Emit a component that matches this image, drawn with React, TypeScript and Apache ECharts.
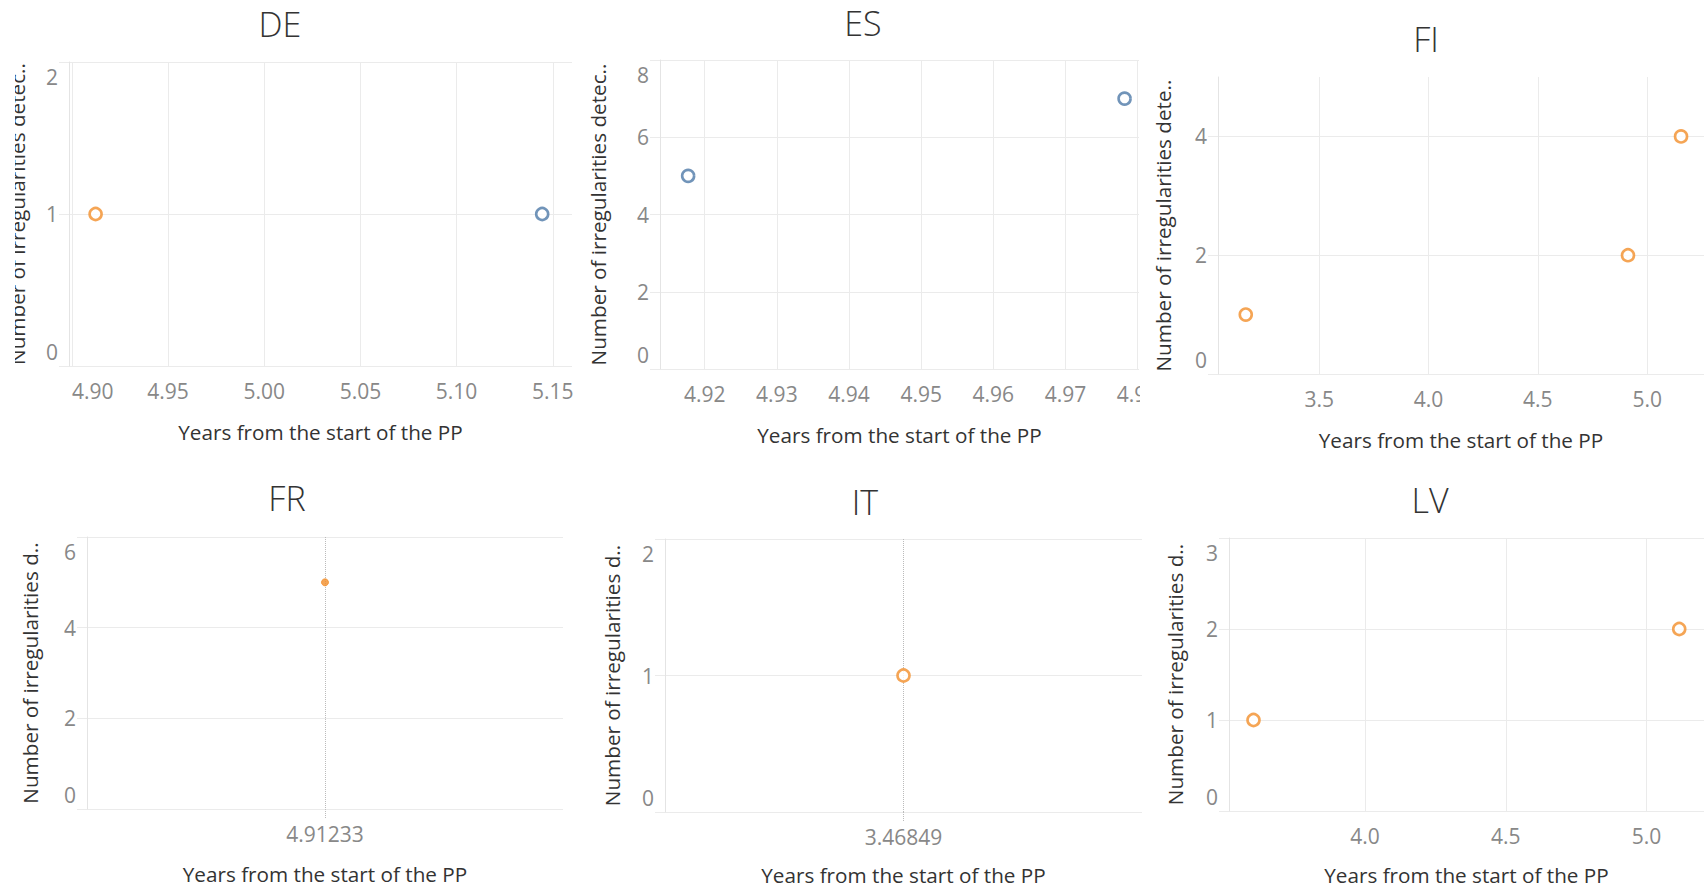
import React, { useEffect, useRef } from "react";
import * as echarts from "echarts";

const FONT = "'Open Sans', 'Noto Sans', sans-serif";
const ORANGE = "#f28e2b";
const BLUE = "#4e79a7";
const GRID = "#ebebeb";

// ---------- data ----------
const titles = ["DE", "ES", "FI", "FR", "IT", "LV"];
const xAxisTitle = "Years from the start of the PP";
const yAxisTitles = [
  "Number of irregularities detec..",
  "Number of irregularities detec..",
  "Number of irregularities dete..",
  "Number of irregularities d..",
  "Number of irregularities d..",
  "Number of irregularities d..",
];

// points: [years from start, number of irregularities]
const deOrange = [[4.91233, 1]];
const deBlue = [[5.1445, 1]];
const esOrange: number[][] = [];
const esBlue = [[4.9177, 5], [4.9782, 7]];
const fiOrange = [[3.164, 1], [4.91233, 2], [5.155, 4]];
const fiBlue: number[][] = [];
const frOrange = [[4.91233, 5]];
const frBlue: number[][] = [];
const itOrange = [[3.46849, 1]];
const itBlue: number[][] = [];
const lvOrange = [[3.604, 1], [5.116, 2]];
const lvBlue: number[][] = [];

// x tick labels
const deXTicks = [4.9, 4.95, 5.0, 5.05, 5.1, 5.15];
const esXTicks = [4.92, 4.93, 4.94, 4.95, 4.96, 4.97, 4.98];
const fiXTicks = [3.5, 4.0, 4.5, 5.0];
const frXTicks = [4.91233];
const itXTicks = [3.46849];
const lvXTicks = [4.0, 4.5, 5.0];

// y tick labels
const deYTicks = [0, 1, 2];
const esYTicks = [0, 2, 4, 6, 8];
const fiYTicks = [0, 2, 4];
const frYTicks = [0, 2, 4, 6];
const itYTicks = [0, 1, 2];
const lvYTicks = [0, 1, 2, 3];

// axis extents
const deXRange = [4.8985, 5.16];
const esXRange = [4.9138, 4.9802];
const fiXRange = [3.037, 5.26];
const frXRange = [4.41233, 5.41233];
const itXRange = [2.96849, 3.96849];
const lvXRange = [3.517, 5.204];
const yMaxes = [2, 8, 5, 6, 2, 3];

const orangeSets = [deOrange, esOrange, fiOrange, frOrange, itOrange, lvOrange];
const blueSets = [deBlue, esBlue, fiBlue, frBlue, itBlue, lvBlue];
const xTickSets = [deXTicks, esXTicks, fiXTicks, frXTicks, itXTicks, lvXTicks];
const yTickSets = [deYTicks, esYTicks, fiYTicks, frYTicks, itYTicks, lvYTicks];
const xRanges = [deXRange, esXRange, fiXRange, frXRange, itXRange, lvXRange];
const xDecimals = [2, 2, 1, 5, 5, 1];

// ---------- layout ----------
type Layout = {
  box: { left: number; top: number; width: number; height: number };
  grid: [number, number, number, number];
  titleX: number;
  titleY: number;
  yNameGap: number;
  xNameGap: number;
  alignMin?: string;
  single?: boolean;
  markerSize: number;
  filled?: boolean;
};

const layouts: Layout[] = [
  { box: { left: 15, top: 0, width: 561, height: 460 }, grid: [54, 62, 4, 94], titleX: 265, titleY: 24, yNameGap: 42, xNameGap: 55, alignMin: "left", markerSize: 12 },
  { box: { left: 580, top: 0, width: 560, height: 460 }, grid: [80, 60, 1, 91], titleX: 283, titleY: 23, yNameGap: 52, xNameGap: 55, markerSize: 12 },
  { box: { left: 1146, top: 0, width: 560, height: 460 }, grid: [72, 77, 2, 86], titleX: 280, titleY: 39, yNameGap: 45, xNameGap: 55, markerSize: 12 },
  { box: { left: 15, top: 460, width: 555, height: 429 }, grid: [72, 77, 7, 80], titleX: 272, titleY: 38, yNameGap: 47, xNameGap: 54, single: true, markerSize: 7, filled: true },
  { box: { left: 580, top: 460, width: 565, height: 429 }, grid: [85, 79, 3, 77], titleX: 285, titleY: 42, yNameGap: 43, xNameGap: 52, single: true, markerSize: 12 },
  { box: { left: 1146, top: 460, width: 560, height: 429 }, grid: [83, 78, 2, 78], titleX: 284, titleY: 40, yNameGap: 44, xNameGap: 53, markerSize: 12 },
];

function makeSeries(name: string, data: number[][], color: string, L: Layout) {
  return {
    name,
    type: "scatter",
    data,
    symbol: "circle",
    symbolSize: L.markerSize,
    itemStyle: L.filled
      ? { color, borderColor: color, borderWidth: 1 }
      : { color: "#ffffff", borderColor: color, borderWidth: 2.6 },
    emphasis: { disabled: true },
  };
}

function buildOption(i: number) {
  const L = layouts[i];
  const yTicks = yTickSets[i];
  const yMax = yMaxes[i];
  const hasMaxTick = yTicks[yTicks.length - 1] === yMax;
  const dec = xDecimals[i];
  const series: any[] = [];
  if (orangeSets[i].length) series.push(makeSeries("Orange", orangeSets[i], ORANGE, L));
  if (blueSets[i].length) series.push(makeSeries("Blue", blueSets[i], BLUE, L));

  return {
    animation: false,
    title: {
      text: titles[i],
      left: L.titleX,
      top: L.titleY - 22,
      textAlign: "center",
      padding: 0,
      textStyle: { fontFamily: FONT, fontSize: 34, fontWeight: 300, color: "#333333", lineHeight: 44 },
    },
    grid: {
      left: L.grid[0],
      top: L.grid[1],
      right: L.grid[2],
      bottom: L.grid[3],
      containLabel: false,
      outerBoundsMode: "none",
    },
    xAxis: {
      type: "value",
      min: xRanges[i][0],
      max: xRanges[i][1],
      name: xAxisTitle,
      nameLocation: "middle",
      nameGap: L.xNameGap,
      nameTextStyle: { fontFamily: FONT, fontSize: 20.7, color: "#333333" },
      axisLine: { show: false },
      axisTick: L.single
        ? { show: true, length: 9, customValues: xTickSets[i], lineStyle: { color: "#bbbbbb", type: "dotted" } }
        : { show: false, customValues: xTickSets[i] },
      axisLabel: {
        customValues: xTickSets[i],
        formatter: (v: number) => v.toFixed(dec),
        fontFamily: FONT,
        fontSize: 21,
        color: "#888888",
        margin: 14,
        alignMinLabel: L.alignMin,
      },
      splitLine: L.single
        ? { show: true, lineStyle: { color: "#bbbbbb", type: "dotted", width: 1 } }
        : { show: true, lineStyle: { color: GRID, width: 1 } },
    },
    yAxis: {
      type: "value",
      min: 0,
      max: yMax,
      name: yAxisTitles[i],
      nameLocation: "middle",
      nameRotate: 90,
      nameGap: L.yNameGap,
      nameTextStyle: { fontFamily: FONT, fontSize: 20.7, color: "#333333" },
      axisLine: { show: true, lineStyle: { color: "#e4e4e4", width: 1 } },
      axisTick: { show: true, length: 10, customValues: yTicks, lineStyle: { color: GRID, width: 1 } },
      axisLabel: {
        customValues: yTicks,
        fontFamily: FONT,
        fontSize: 21,
        color: "#888888",
        margin: 11,
        padding: [4, 0, 4, 0],
        verticalAlignMinLabel: "bottom",
        verticalAlignMaxLabel: hasMaxTick ? "top" : undefined,
      },
      splitLine: { show: true, lineStyle: { color: GRID, width: 1 } },
    },
    series,
  };
}

function Panel({ index }: { index: number }) {
  const ref = useRef<HTMLDivElement>(null);
  useEffect(() => {
    if (!ref.current) return;
    const chart = echarts.init(ref.current, null, { renderer: "svg" });
    chart.setOption(buildOption(index) as any);
    return () => chart.dispose();
  }, [index]);
  const b = layouts[index].box;
  return (
    <div
      ref={ref}
      style={{ position: "absolute", left: b.left, top: b.top, width: b.width, height: b.height }}
    />
  );
}

export default function App() {
  return (
    <div
      style={{
        position: "absolute",
        left: 0,
        top: 0,
        width: 1706,
        height: 889,
        background: "#ffffff",
        overflow: "hidden",
      }}
    >
      {titles.map((_, i) => (
        <Panel key={i} index={i} />
      ))}
    </div>
  );
}
